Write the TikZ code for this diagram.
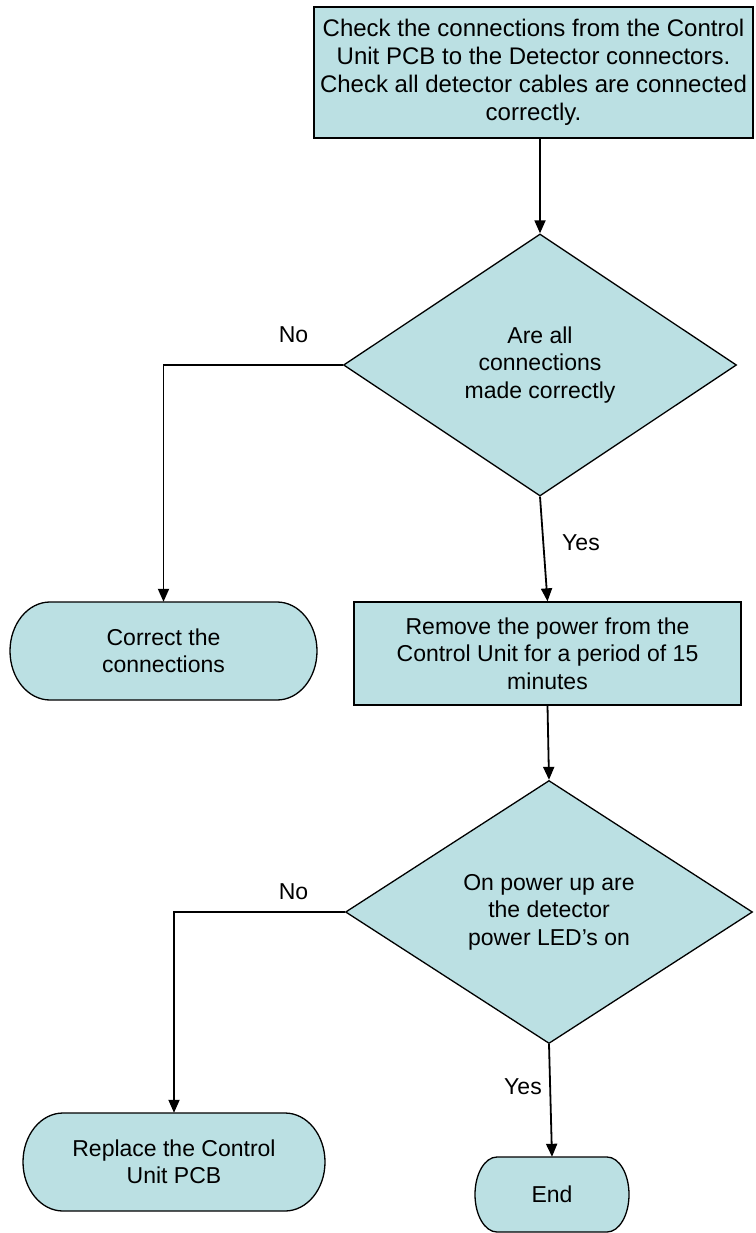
\documentclass[tikz,border=0pt]{standalone}
\usepackage{fontspec}
\setmainfont{Liberation Sans}
\usetikzlibrary{shapes.geometric,arrows.meta}
\definecolor{boxfill}{RGB}{187,224,227}
\newcommand\bodyfont{\fontsize{23}{27.5}\selectfont}
\newcommand\topfont{\fontsize{24}{28}\selectfont}
\tikzset{
 shapeline/.style={draw=black,line width=1.3pt,fill=boxfill},
 procbox/.style={shapeline,rectangle,inner sep=0pt,align=center,font=\bodyfont},
 decision/.style={shapeline,diamond,inner sep=0pt,align=center,font=\bodyfont},
 termtext/.style={rectangle,inner sep=0pt,align=center,font=\bodyfont},
 lbl/.style={font=\bodyfont,inner sep=0pt},
 conn/.style={line width=1.8pt,-{Triangle[length=13pt,width=11pt]}}
}
% cx cy w h rx ry
\newcommand\termshape[6]{%
 \path[shapeline] ({#1-#3/2+#5},{#2+#4/2}) -- ({#1+#3/2-#5},{#2+#4/2})
   arc[start angle=90,end angle=-90,x radius=#5pt,y radius=#6pt]
   -- ({#1-#3/2+#5},{#2-#4/2})
   arc[start angle=270,end angle=90,x radius=#5pt,y radius=#6pt] -- cycle;}
\begin{document}
\begin{tikzpicture}[x=1pt,y=1pt]
\useasboundingbox (0,0) rectangle (755,-1233);
\node[procbox,font=\topfont,minimum width=439pt,minimum height=131pt] (top) at (533.5,-72.5)
 {Check the connections from the Control\\Unit PCB to the Detector connectors.\\Check all detector cables are connected\\correctly.};
\node[decision,minimum width=393pt,minimum height=262pt] (d1) at (540,-365)
 {Are all\\connections\\made correctly};
\node[procbox,minimum width=387pt,minimum height=103pt] (b2) at (547.5,-653.5)
 {Remove the power from the\\Control Unit for a period of 15\\minutes};
\node[decision,minimum width=407pt,minimum height=263pt] (d2) at (549,-912)
 {On power up are\\the detector\\power LED’s on};
\termshape{163.5}{-651}{307}{98}{40}{49}
\node[termtext,minimum width=307pt,minimum height=98pt] (t1) at (163.5,-651) {Correct the\\connections};
\termshape{174}{-1162}{302}{98}{40}{49}
\node[termtext,minimum width=302pt,minimum height=98pt] (t2) at (174,-1162) {Replace the Control\\Unit PCB};
\termshape{552}{-1194.5}{154}{75}{22}{37.5}
\node[termtext,minimum width=154pt,minimum height=75pt] (e) at (552,-1194.5) {End};
\node[lbl] (no1) at (293.5,-335) {No};
\node[lbl] (no2) at (293.5,-892) {No};
\node[lbl] (yes1) at (581,-543) {Yes};
\node[lbl] (yes2) at (523,-1087) {Yes};
\draw[conn] (top.south -| d1.north) -- (d1.north);
\coordinate (c1) at (t1.north |- d1.west);
\draw[conn] (d1.west) -- (c1) -- (t1.north);
\draw[conn] (d1.south) -- (b2.north);
\draw[conn] (b2.south) -- (d2.north);
\coordinate (c2) at (t2.north |- d2.west);
\draw[conn] (d2.west) -- (c2) -- (t2.north);
\draw[conn] (d2.south) -- (e.north);
\end{tikzpicture}
\end{document}
